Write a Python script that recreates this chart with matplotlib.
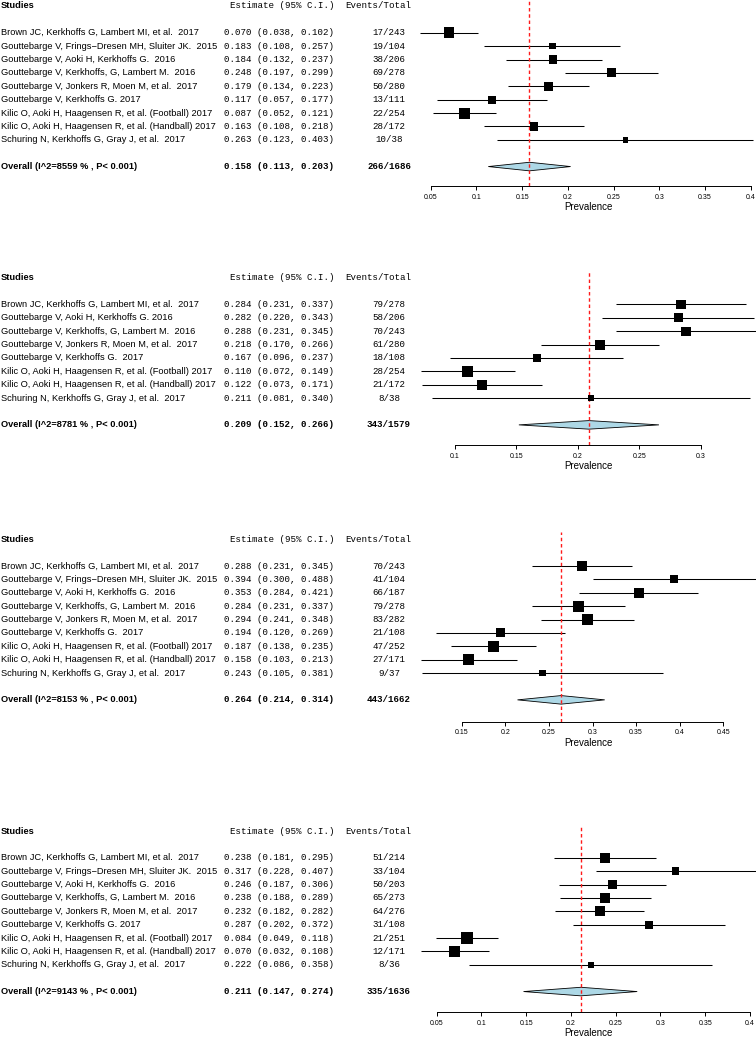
import numpy as np
import matplotlib
matplotlib.use("Agg")
import matplotlib.pyplot as plt
from matplotlib import transforms
from matplotlib.patches import Polygon

SANS = ["Liberation Sans", "DejaVu Sans"]
MONO = ["Liberation Mono", "DejaVu Sans Mono"]
plt.rcParams["font.family"] = SANS

# ---- data ----
# panel 1
names1 = ["Brown JC, Kerkhoffs G, Lambert MI, et al.  2017",
          "Gouttebarge V, Frings\u2212Dresen MH, Sluiter JK.  2015",
          "Gouttebarge V, Aoki H, Kerkhoffs G.  2016",
          "Gouttebarge V, Kerkhoffs, G, Lambert M.  2016",
          "Gouttebarge V, Jonkers R, Moen M, et al.  2017",
          "Gouttebarge V, Kerkhoffs G. 2017",
          "Kilic O, Aoki H, Haagensen R, et al. (Football) 2017",
          "Kilic O, Aoki H, Haagensen R, et al. (Handball) 2017",
          "Schuring N, Kerkhoffs G, Gray J, et al.  2017"]
est1 = [0.070, 0.183, 0.184, 0.248, 0.179, 0.117, 0.087, 0.163, 0.263]
lo1 = [0.038, 0.108, 0.132, 0.197, 0.134, 0.057, 0.052, 0.108, 0.123]
hi1 = [0.102, 0.257, 0.237, 0.299, 0.223, 0.177, 0.121, 0.218, 0.403]
ev1 = [17, 19, 38, 69, 50, 13, 22, 28, 10]
n1 = [243, 104, 206, 278, 280, 111, 254, 172, 38]
wt1 = [10.7, 6.7, 8.3, 9.0, 9.3, 8.3, 11.0, 8.7, 5.7]   # relative box weight
overall1 = (0.158, 0.113, 0.203)
isq1 = 8559

# panel 2
names2 = ["Brown JC, Kerkhoffs G, Lambert MI, et al.  2017",
          "Gouttebarge V, Aoki H, Kerkhoffs G. 2016",
          "Gouttebarge V, Kerkhoffs, G, Lambert M.  2016",
          "Gouttebarge V, Jonkers R, Moen M, et al.  2017",
          "Gouttebarge V, Kerkhoffs G.  2017",
          "Kilic O, Aoki H, Haagensen R, et al. (Football) 2017",
          "Kilic O, Aoki H, Haagensen R, et al. (Handball) 2017",
          "Schuring N, Kerkhoffs G, Gray J, et al.  2017"]
est2 = [0.284, 0.282, 0.288, 0.218, 0.167, 0.110, 0.122, 0.211]
lo2 = [0.231, 0.220, 0.231, 0.170, 0.096, 0.072, 0.073, 0.081]
hi2 = [0.337, 0.343, 0.345, 0.266, 0.237, 0.149, 0.171, 0.340]
ev2 = [79, 58, 70, 61, 18, 28, 21, 8]
n2 = [278, 206, 243, 280, 108, 254, 172, 38]
wt2 = [9.3, 8.7, 9.3, 10.0, 8.3, 11.0, 10.0, 6.0]
overall2 = (0.209, 0.152, 0.266)
isq2 = 8781

# panel 3
names3 = ["Brown JC, Kerkhoffs G, Lambert MI, et al.  2017",
          "Gouttebarge V, Frings\u2212Dresen MH, Sluiter JK.  2015",
          "Gouttebarge V, Aoki H, Kerkhoffs G.  2016",
          "Gouttebarge V, Kerkhoffs, G, Lambert M.  2016",
          "Gouttebarge V, Jonkers R, Moen M, et al.  2017",
          "Gouttebarge V, Kerkhoffs G.  2017",
          "Kilic O, Aoki H, Haagensen R, et al. (Football) 2017",
          "Kilic O, Aoki H, Haagensen R, et al. (Handball) 2017",
          "Schuring N, Kerkhoffs G, Gray J, et al.  2017"]
est3 = [0.288, 0.394, 0.353, 0.284, 0.294, 0.194, 0.187, 0.158, 0.243]
lo3 = [0.231, 0.300, 0.284, 0.231, 0.241, 0.120, 0.138, 0.103, 0.105]
hi3 = [0.345, 0.488, 0.421, 0.337, 0.348, 0.269, 0.235, 0.213, 0.381]
ev3 = [70, 41, 66, 79, 83, 21, 47, 27, 9]
n3 = [243, 104, 187, 278, 282, 108, 252, 171, 37]
wt3 = [10.0, 8.0, 9.7, 10.7, 10.7, 9.0, 11.0, 11.0, 6.7]
overall3 = (0.264, 0.214, 0.314)
isq3 = 8153

# panel 4
names4 = ["Brown JC, Kerkhoffs G, Lambert MI, et al.  2017",
          "Gouttebarge V, Frings\u2212Dresen MH, Sluiter JK.  2015",
          "Gouttebarge V, Aoki H, Kerkhoffs G.  2016",
          "Gouttebarge V, Kerkhoffs, G, Lambert M.  2016",
          "Gouttebarge V, Jonkers R, Moen M, et al.  2017",
          "Gouttebarge V, Kerkhoffs G. 2017",
          "Kilic O, Aoki H, Haagensen R, et al. (Football) 2017",
          "Kilic O, Aoki H, Haagensen R, et al. (Handball) 2017",
          "Schuring N, Kerkhoffs G, Gray J, et al.  2017"]
est4 = [0.238, 0.317, 0.246, 0.238, 0.232, 0.287, 0.084, 0.070, 0.222]
lo4 = [0.181, 0.228, 0.187, 0.188, 0.182, 0.202, 0.049, 0.032, 0.086]
hi4 = [0.295, 0.407, 0.306, 0.289, 0.282, 0.372, 0.118, 0.108, 0.358]
ev4 = [51, 33, 50, 65, 64, 31, 21, 12, 8]
n4 = [214, 104, 203, 273, 276, 108, 251, 171, 36]
wt4 = [9.7, 7.3, 9.0, 9.7, 10.0, 7.7, 11.7, 11.3, 6.3]
overall4 = (0.211, 0.147, 0.274)
isq4 = 9143

ticks1 = [0.05, 0.1, 0.15, 0.2, 0.25, 0.3, 0.35, 0.4]
ticks2 = [0.1, 0.15, 0.2, 0.25, 0.3]
ticks3 = [0.15, 0.2, 0.25, 0.3, 0.35, 0.4, 0.45]
ticks4 = [0.05, 0.1, 0.15, 0.2, 0.25, 0.3, 0.35, 0.4]
ticklab1 = ["0.05", "0.1", "0.15", "0.2", "0.25", "0.3", "0.35", "0.4"]
ticklab2 = ["0.1", "0.15", "0.2", "0.25", "0.3"]
ticklab3 = ["0.15", "0.2", "0.25", "0.3", "0.35", "0.4", "0.45"]
ticklab4 = ticklab1

W, H = 756, 1037
PITCH = 13.38   # px per row
FS = 6.7        # sans text size
FM = 6.56       # mono text size
fig = plt.figure(figsize=(W / 100, H / 100), dpi=100)


def forest(names, est, lo, hi, ev, n, wt, ov, isq, ticks, ticklab, lay):
    # lay: header y, axis y, top y, px of first tick, px of last tick
    hy, ay, ty, pa, pb = lay
    a, b = ticks[0], ticks[-1]
    sc = (pb - pa) / (b - a)
    ax = fig.add_axes([0, 1 - ay / H, 1, (ay - ty) / H])
    ax.set_xlim(a - pa / sc, a + (W - pa) / sc)
    ax.set_ylim((ay - hy) / PITCH, (ty - hy) / PITCH)
    ax.patch.set_visible(False)
    for s in ["top", "left", "right"]:
        ax.spines[s].set_visible(False)
    ax.spines["bottom"].set_bounds(a, b)
    ax.spines["bottom"].set_linewidth(0.7)
    ax.set_yticks([])
    ax.set_xticks(ticks, ticklab)
    ax.tick_params(axis="x", direction="out", length=3, width=0.7,
                   labelsize=5, pad=2.5)

    tr = transforms.blended_transform_factory(fig.transFigure, ax.transData)
    k = len(names)
    y = np.arange(k) + 2
    yo = k + 3

    # header
    ax.text(1 / W, 0, "Studies", transform=tr, family=SANS, size=FS,
            weight="bold", va="center")
    ax.text(334.5 / W, 0, "Estimate (95% C.I.)", transform=tr, family=MONO,
            size=FM, va="center", ha="right")
    ax.text(345 / W, 0, "Events/Total", transform=tr, family=MONO,
            size=FM, va="center", ha="left")

    for i in range(k):
        ax.text(1 / W, y[i], names[i], transform=tr, family=SANS, size=FS,
                va="center")
        ax.text(334.5 / W, y[i], "%.3f (%.3f, %.3f)" % (est[i], lo[i], hi[i]),
                transform=tr, family=MONO, size=FM, va="center", ha="right")
        ax.text(389 / W, y[i], "%d/%d" % (ev[i], n[i]), transform=tr,
                family=MONO, size=FM, va="center", ha="center")

    ax.text(1 / W, yo, "Overall (I^2=%d %% , P< 0.001)" % isq, transform=tr,
            family=SANS, size=FS, weight="bold", va="center")
    ax.text(334.5 / W, yo, "%.3f (%.3f, %.3f)" % ov, transform=tr,
            family=MONO, size=FM, weight="bold", va="center", ha="right")
    ax.text(389 / W, yo, "%d/%d" % (sum(ev), sum(n)), transform=tr,
            family=MONO, size=FM, weight="bold", va="center", ha="center")

    # marks
    ax.hlines(y, lo, hi, color="black", lw=0.75, clip_on=False, zorder=2)
    ax.scatter(est, y, s=(np.array(wt) * 0.72) ** 2, marker="s",
               color="black", linewidths=0, zorder=3, clip_on=False)
    dia = Polygon([(ov[1], yo), (ov[0], yo - 0.32), (ov[2], yo),
                   (ov[0], yo + 0.32)], closed=True, fc="#ADD8E6",
                  ec="black", lw=0.6, zorder=2)
    ax.add_patch(dia)
    ax.axvline(ov[0], color="#ff1a1a", lw=1.0, ls=(0, (2.5, 2)), zorder=2.5)

    fig.text(588 / W, 1 - (ay + 21) / H, "Prevalence", ha="center",
             va="center", size=7.0, family=SANS)


forest(names1, est1, lo1, hi1, ev1, n1, wt1, overall1, isq1, ticks1, ticklab1,
       (6, 186.3, 0, 430.7, 750.7))
forest(names2, est2, lo2, hi2, ev2, n2, wt2, overall2, isq2, ticks2, ticklab2,
       (277.7, 445.3, 270, 455, 700.7))
forest(names3, est3, lo3, hi3, ev3, n3, wt3, overall3, isq3, ticks3, ticklab3,
       (539.3, 721.7, 532, 461.7, 723.3))
forest(names4, est4, lo4, hi4, ev4, n4, wt4, overall4, isq4, ticks4, ticklab4,
       (831, 1012.3, 825, 436.7, 750))

fig.savefig("out.png", dpi=100)
